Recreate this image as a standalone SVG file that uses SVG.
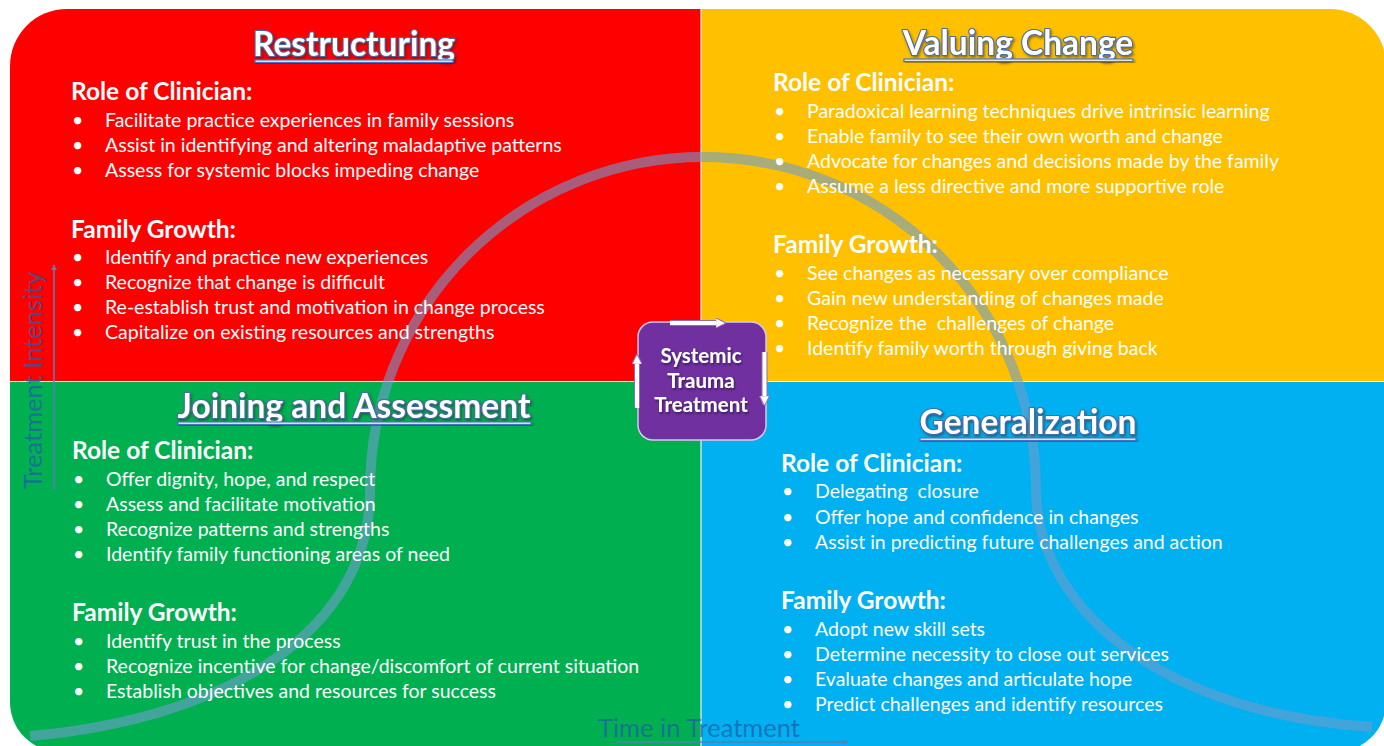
<svg xmlns="http://www.w3.org/2000/svg" width="1384" height="746" viewBox="0 0 1384 746">
  <defs>
    <style>
      .txt { font-family: Lato, "Open Sans", "Liberation Sans", sans-serif; fill: #ffffff; white-space: pre; }
      .item { font-size: 19.5px; }
      .head { font-size: 24.5px; font-weight: bold; }
      .title { font-size: 33.5px; font-weight: bold; text-anchor: middle; stroke: #4a6aa6; stroke-width: 2.2; paint-order: stroke; stroke-linejoin: round; filter: url(#titleShadow); }
      .uline { fill: #ffffff; stroke: #4472c4; stroke-width: 1.2; filter: url(#titleShadow); }
      .core { font-family: Lato, "Open Sans", "Liberation Sans", sans-serif; font-size: 20.5px; font-weight: bold; fill: #ffffff; text-anchor: middle; filter: url(#coreShadow); }
      .axis { font-family: Lato, "Open Sans", "Liberation Sans", sans-serif; font-size: 25.5px; fill: #1f5fa8; fill-opacity: 0.75; }
      .axisline { stroke: #5b7db8; stroke-width: 1.6; fill: none; marker-end: url(#axisHead); }
      .cycle { stroke: #ffffff; stroke-width: 4; fill: none; marker-end: url(#cycleHead); }
      .cycleEdge { stroke: #8a6fb5; stroke-width: 6; fill: none; }
    </style>
    <filter id="titleShadow" x="-10%" y="-30%" width="120%" height="170%">
      <feDropShadow dx="1.2" dy="1.8" stdDeviation="1.2" flood-color="#202020" flood-opacity="0.5"/>
    </filter>
    <filter id="coreShadow" x="-10%" y="-30%" width="120%" height="170%">
      <feDropShadow dx="1" dy="1.5" stdDeviation="1" flood-color="#1a0a30" flood-opacity="0.7"/>
    </filter>
    <marker id="axisHead" viewBox="0 0 10 10" refX="9" refY="5" markerWidth="6" markerHeight="6" orient="auto" markerUnits="userSpaceOnUse">
      <path d="M0,0 L10,5 L0,10 Z" fill="#5b7db8"/>
    </marker>
    <marker id="cycleHead" viewBox="0 0 10 10" refX="8" refY="5" markerWidth="2.6" markerHeight="2.6" orient="auto">
      <path d="M0,0 L10,5 L0,10 Z" fill="#ffffff" stroke="#8a6fb5" stroke-width="1"/>
    </marker>
    <clipPath id="panelClip">
      <path d="M67,9 H1330 A56,56 0 0 1 1386,65 V702 A50,50 0 0 1 1336,752 H60 A50,50 0 0 1 10,702 V66 A57,57 0 0 1 67,9 Z"/>
    </clipPath>
  </defs>

  <rect width="1384" height="746" fill="#ffffff"/>

  <!-- four quadrant fills inside the rounded frame -->
  <g clip-path="url(#panelClip)">
    <rect x="0" y="0" width="701" height="381" fill="#ff0000"/>
    <rect x="701" y="0" width="700" height="381" fill="#ffc000"/>
    <rect x="0" y="381" width="701" height="380" fill="#00b050"/>
    <rect x="701" y="381" width="700" height="380" fill="#00b0f0"/>
    <line x1="701" y1="0" x2="701" y2="760" stroke="#f2f2f2" stroke-width="1.2"/>
    <line x1="0" y1="381.5" x2="1400" y2="381.5" stroke="#f2f2f2" stroke-width="1.2"/>
  </g>

  <g id="connectors">
    <!-- sweeping progress curve -->
    <path d="M30,736 C230,718 370,630 370,490 A333,333 0 0 1 1036,490 C1036,600 1150,712 1372,727" fill="none" stroke="#6e9ccc" stroke-opacity="0.6" stroke-width="10"/>
    <!-- axes -->
    <line class="axisline" x1="54" y1="490" x2="54" y2="265"/>
    <line class="axisline" x1="617" y1="742" x2="848" y2="742"/>
  </g>

  <g id="axis-labels">
    <text class="axis" transform="translate(42,489) rotate(-90)">Treatment Intensity</text>
    <text class="axis" x="598" y="737">Time in Treatment</text>
  </g>

  <g id="restructuring" transform="translate(0,1)">
    <text class="txt title" x="354" y="55">Restructuring</text>
    <rect class="uline" x="255" y="59" width="198" height="2.4"/>
    <text class="txt head" x="71" y="99">Role of Clinician:</text>
    <text class="txt item" x="72" y="126">•</text>
    <text class="txt item" x="105" y="126">Facilitate practice experiences in family sessions</text>
    <text class="txt item" x="72" y="151">•</text>
    <text class="txt item" x="105" y="151">Assist in identifying and altering maladaptive patterns</text>
    <text class="txt item" x="72" y="176">•</text>
    <text class="txt item" x="105" y="176">Assess for systemic blocks impeding change</text>
    <text class="txt head" x="71" y="237">Family Growth:</text>
    <text class="txt item" x="72" y="263">•</text>
    <text class="txt item" x="105" y="263">Identify and practice new experiences</text>
    <text class="txt item" x="72" y="288">•</text>
    <text class="txt item" x="105" y="288">Recognize that change is difficult</text>
    <text class="txt item" x="72" y="313">•</text>
    <text class="txt item" x="105" y="313">Re-establish trust and motivation in change process</text>
    <text class="txt item" x="72" y="338">•</text>
    <text class="txt item" x="105" y="338">Capitalize on existing resources and strengths</text>
  </g>

  <g id="valuing-change" transform="translate(0,1)">
    <text class="txt title" x="1018" y="54">Valuing Change</text>
    <rect class="uline" x="904" y="58" width="229" height="2.4"/>
    <text class="txt head" x="773" y="90">Role of Clinician:</text>
    <text class="txt item" x="774" y="117">•</text>
    <text class="txt item" x="807" y="117">Paradoxical learning techniques drive intrinsic learning</text>
    <text class="txt item" x="774" y="142">•</text>
    <text class="txt item" x="807" y="142">Enable family to see their own worth and change</text>
    <text class="txt item" x="774" y="167">•</text>
    <text class="txt item" x="807" y="167">Advocate for changes and decisions made by the family</text>
    <text class="txt item" x="774" y="192">•</text>
    <text class="txt item" x="807" y="192">Assume a less directive and more supportive role</text>
    <text class="txt head" x="773" y="252">Family Growth:</text>
    <text class="txt item" x="774" y="279">•</text>
    <text class="txt item" x="807" y="279">See changes as necessary over compliance</text>
    <text class="txt item" x="774" y="304">•</text>
    <text class="txt item" x="807" y="304">Gain new understanding of changes made</text>
    <text class="txt item" x="774" y="329">•</text>
    <text class="txt item" x="807" y="329">Recognize the  challenges of change</text>
    <text class="txt item" x="774" y="354">•</text>
    <text class="txt item" x="807" y="354">Identify family worth through giving back</text>
  </g>

  <g id="joining-assessment" transform="translate(0,1)">
    <text class="txt title" x="354" y="417">Joining and Assessment</text>
    <rect class="uline" x="178" y="421" width="353" height="2.4"/>
    <text class="txt head" x="72" y="458">Role of Clinician:</text>
    <text class="txt item" x="73" y="485">•</text>
    <text class="txt item" x="106" y="485">Offer dignity, hope, and respect</text>
    <text class="txt item" x="73" y="510">•</text>
    <text class="txt item" x="106" y="510">Assess and facilitate motivation</text>
    <text class="txt item" x="73" y="535">•</text>
    <text class="txt item" x="106" y="535">Recognize patterns and strengths</text>
    <text class="txt item" x="73" y="560">•</text>
    <text class="txt item" x="106" y="560">Identify family functioning areas of need</text>
    <text class="txt head" x="72" y="620">Family Growth:</text>
    <text class="txt item" x="73" y="647">•</text>
    <text class="txt item" x="106" y="647">Identify trust in the process</text>
    <text class="txt item" x="73" y="672">•</text>
    <text class="txt item" x="106" y="672">Recognize incentive for change/discomfort of current situation</text>
    <text class="txt item" x="73" y="697">•</text>
    <text class="txt item" x="106" y="697">Establish objectives and resources for success</text>
  </g>

  <g id="generalization" transform="translate(0,1)">
    <text class="txt title" x="1028" y="433">Generalization</text>
    <rect class="uline" x="920" y="437" width="216" height="2.4"/>
    <text class="txt head" x="781" y="471">Role of Clinician:</text>
    <text class="txt item" x="782" y="497">•</text>
    <text class="txt item" x="815" y="497">Delegating  closure</text>
    <text class="txt item" x="782" y="523">•</text>
    <text class="txt item" x="815" y="523">Offer hope and confidence in changes</text>
    <text class="txt item" x="782" y="548">•</text>
    <text class="txt item" x="815" y="548">Assist in predicting future challenges and action</text>
    <text class="txt head" x="781" y="608">Family Growth:</text>
    <text class="txt item" x="782" y="635">•</text>
    <text class="txt item" x="815" y="635">Adopt new skill sets</text>
    <text class="txt item" x="782" y="660">•</text>
    <text class="txt item" x="815" y="660">Determine necessity to close out services</text>
    <text class="txt item" x="782" y="685">•</text>
    <text class="txt item" x="815" y="685">Evaluate changes and articulate hope</text>
    <text class="txt item" x="782" y="710">•</text>
    <text class="txt item" x="815" y="710">Predict challenges and identify resources</text>
  </g>

  <g id="systemic-trauma-treatment">
    <rect x="638" y="322" width="128" height="118" rx="15" fill="#7030a0" stroke="#d9c8ec" stroke-width="1.5"/>
    <text class="core" x="701" y="363">Systemic</text>
    <text class="core" x="701" y="387.5">Trauma</text>
    <text class="core" x="701" y="412">Treatment</text>
  </g>

  <!-- cycle arrows riding on the core's edges -->
  <g id="cycle-arrows">
    <line class="cycleEdge" x1="670" y1="323" x2="722" y2="323"/>
    <line class="cycle" x1="670" y1="323" x2="724" y2="323"/>
    <line class="cycleEdge" x1="764.5" y1="352" x2="764.5" y2="402"/>
    <line class="cycle" x1="764.5" y1="352" x2="764.5" y2="404"/>
    <line class="cycleEdge" x1="637" y1="408" x2="637" y2="358"/>
    <line class="cycle" x1="637" y1="408" x2="637" y2="356"/>
  </g>
</svg>
